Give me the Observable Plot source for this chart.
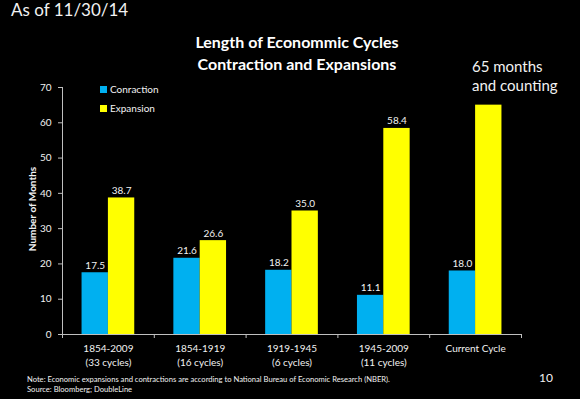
<!DOCTYPE html>
<html><head><meta charset="utf-8">
<script src="https://cdn.jsdelivr.net/npm/d3@7"></script>
<script src="https://cdn.jsdelivr.net/npm/@observablehq/plot@0.6"></script>
<style>
html,body{margin:0;padding:0;background:#000;}
#wrap{position:relative;width:580px;height:399px;background:#000;overflow:hidden;font-family:Lato,"Open Sans",sans-serif;color:#fff;}
.abs{position:absolute;white-space:nowrap;}
.sw{display:inline-block;width:7px;height:7px;margin-right:3px;vertical-align:0px;}
</style></head><body>
<div id="wrap">
  <div id="chart" class="abs" style="left:0;top:0"></div>
  <div class="abs" style="left:11px;top:-1px;font-size:17px;color:#f2f2f2">As of 11/30/14</div>
  <div class="abs" style="left:0;width:594px;top:31px;text-align:center;font-weight:bold;font-size:16px;line-height:22px">Length of Econommic Cycles<br>Contraction and Expansions</div>
  <div class="abs" style="left:472px;top:57px;font-size:15px;line-height:19px;color:#f2f2f2">65 months<br>and counting</div>
  <div id="legend" class="abs" style="left:100px;top:80px;font-size:10px;line-height:19px;color:#f2f2f2"></div>
  <div class="abs" style="left:32px;top:209px;width:0;height:0;">
    <div style="position:absolute;transform:translate(-50%,-50%) rotate(-90deg);font-size:10px;font-weight:bold;white-space:nowrap;color:#f2f2f2">Number of Months</div>
  </div>
  <div class="abs" style="left:27px;top:375px;font-size:7.6px;line-height:9.5px;color:#f2f2f2">Note: Economic expansions and contractions are according to National Bureau of Economic Research (NBER).<br>Source: Bloomberg; DoubleLine</div>
  <div class="abs" style="left:539px;top:370px;font-size:12px;color:#f2f2f2">10</div>
</div>
<script>
const categories = ["1854-2009\n(33 cycles)", "1854-1919\n(16 cycles)", "1919-1945\n(6 cycles)", "1945-2009\n(11 cycles)", "Current Cycle"];
const series = ["Conraction", "Expansion"];
const contraction = [17.5, 21.6, 18.2, 11.1, 18.0];
const expansion = [38.7, 26.6, 35.0, 58.4, 65.0];
const expansionLabelled = [true, true, true, true, false];
const yTicks = [0, 10, 20, 30, 40, 50, 60, 70];
const colors = ["#00B0F0", "#FFFF00"];

const rows = categories.flatMap((c, i) => [
  {i, series: series[0], value: contraction[i], labelled: true},
  {i, series: series[1], value: expansion[i], labelled: expansionLabelled[i]}
]);

const PAD = 0.213; // group inset within each category slot
const left = d => d.i + (d.series === series[0] ? PAD : 0.5);
const right = d => d.i + (d.series === series[0] ? 0.5 : 1 - PAD);
const mid = d => (left(d) + right(d)) / 2;

const chart = Plot.plot({
  width: 580, height: 399,
  marginTop: 87, marginBottom: 65, marginLeft: 62, marginRight: 59,
  style: {background: "transparent", color: "#f2f2f2", fontFamily: "Lato, sans-serif", fontSize: "10px"},
  x: {domain: [0, categories.length]},
  y: {domain: [0, 70]},
  color: {domain: series, range: colors},
  marks: [
    Plot.rect(rows, {x1: left, x2: right, y1: () => 0, y2: "value", fill: "series"}),
    Plot.text(rows.filter(d => d.labelled), {x: mid, y: "value", text: d => d.value.toFixed(1), lineAnchor: "bottom", dy: -4, fill: "#f2f2f2", fontSize: 10}),
    Plot.ruleY([0], {stroke: "#bfbfbf"}),
    Plot.ruleX([0], {stroke: "#bfbfbf"}),
    Plot.axisY({ticks: yTicks, tickSize: 4, tickPadding: 7, label: null, stroke: "#bfbfbf", fontSize: 10}),
    Plot.axisX({ticks: d3.range(categories.length + 1), tickSize: 4, tickFormat: () => "", label: null, stroke: "#bfbfbf"}),
    Plot.axisX({ticks: categories.map((c, i) => i + 0.5), tickSize: 0, tickPadding: 8, tickFormat: v => categories[Math.floor(v)], label: null, fontSize: 10, lineHeight: 1.4})
  ]
});
document.getElementById("chart").appendChild(chart);

const legend = document.getElementById("legend");
series.forEach((s, k) => {
  const row = document.createElement("div");
  row.innerHTML = `<span class="sw" style="background:${colors[k]}"></span>${s}`;
  legend.appendChild(row);
});
</script>
</body></html>
